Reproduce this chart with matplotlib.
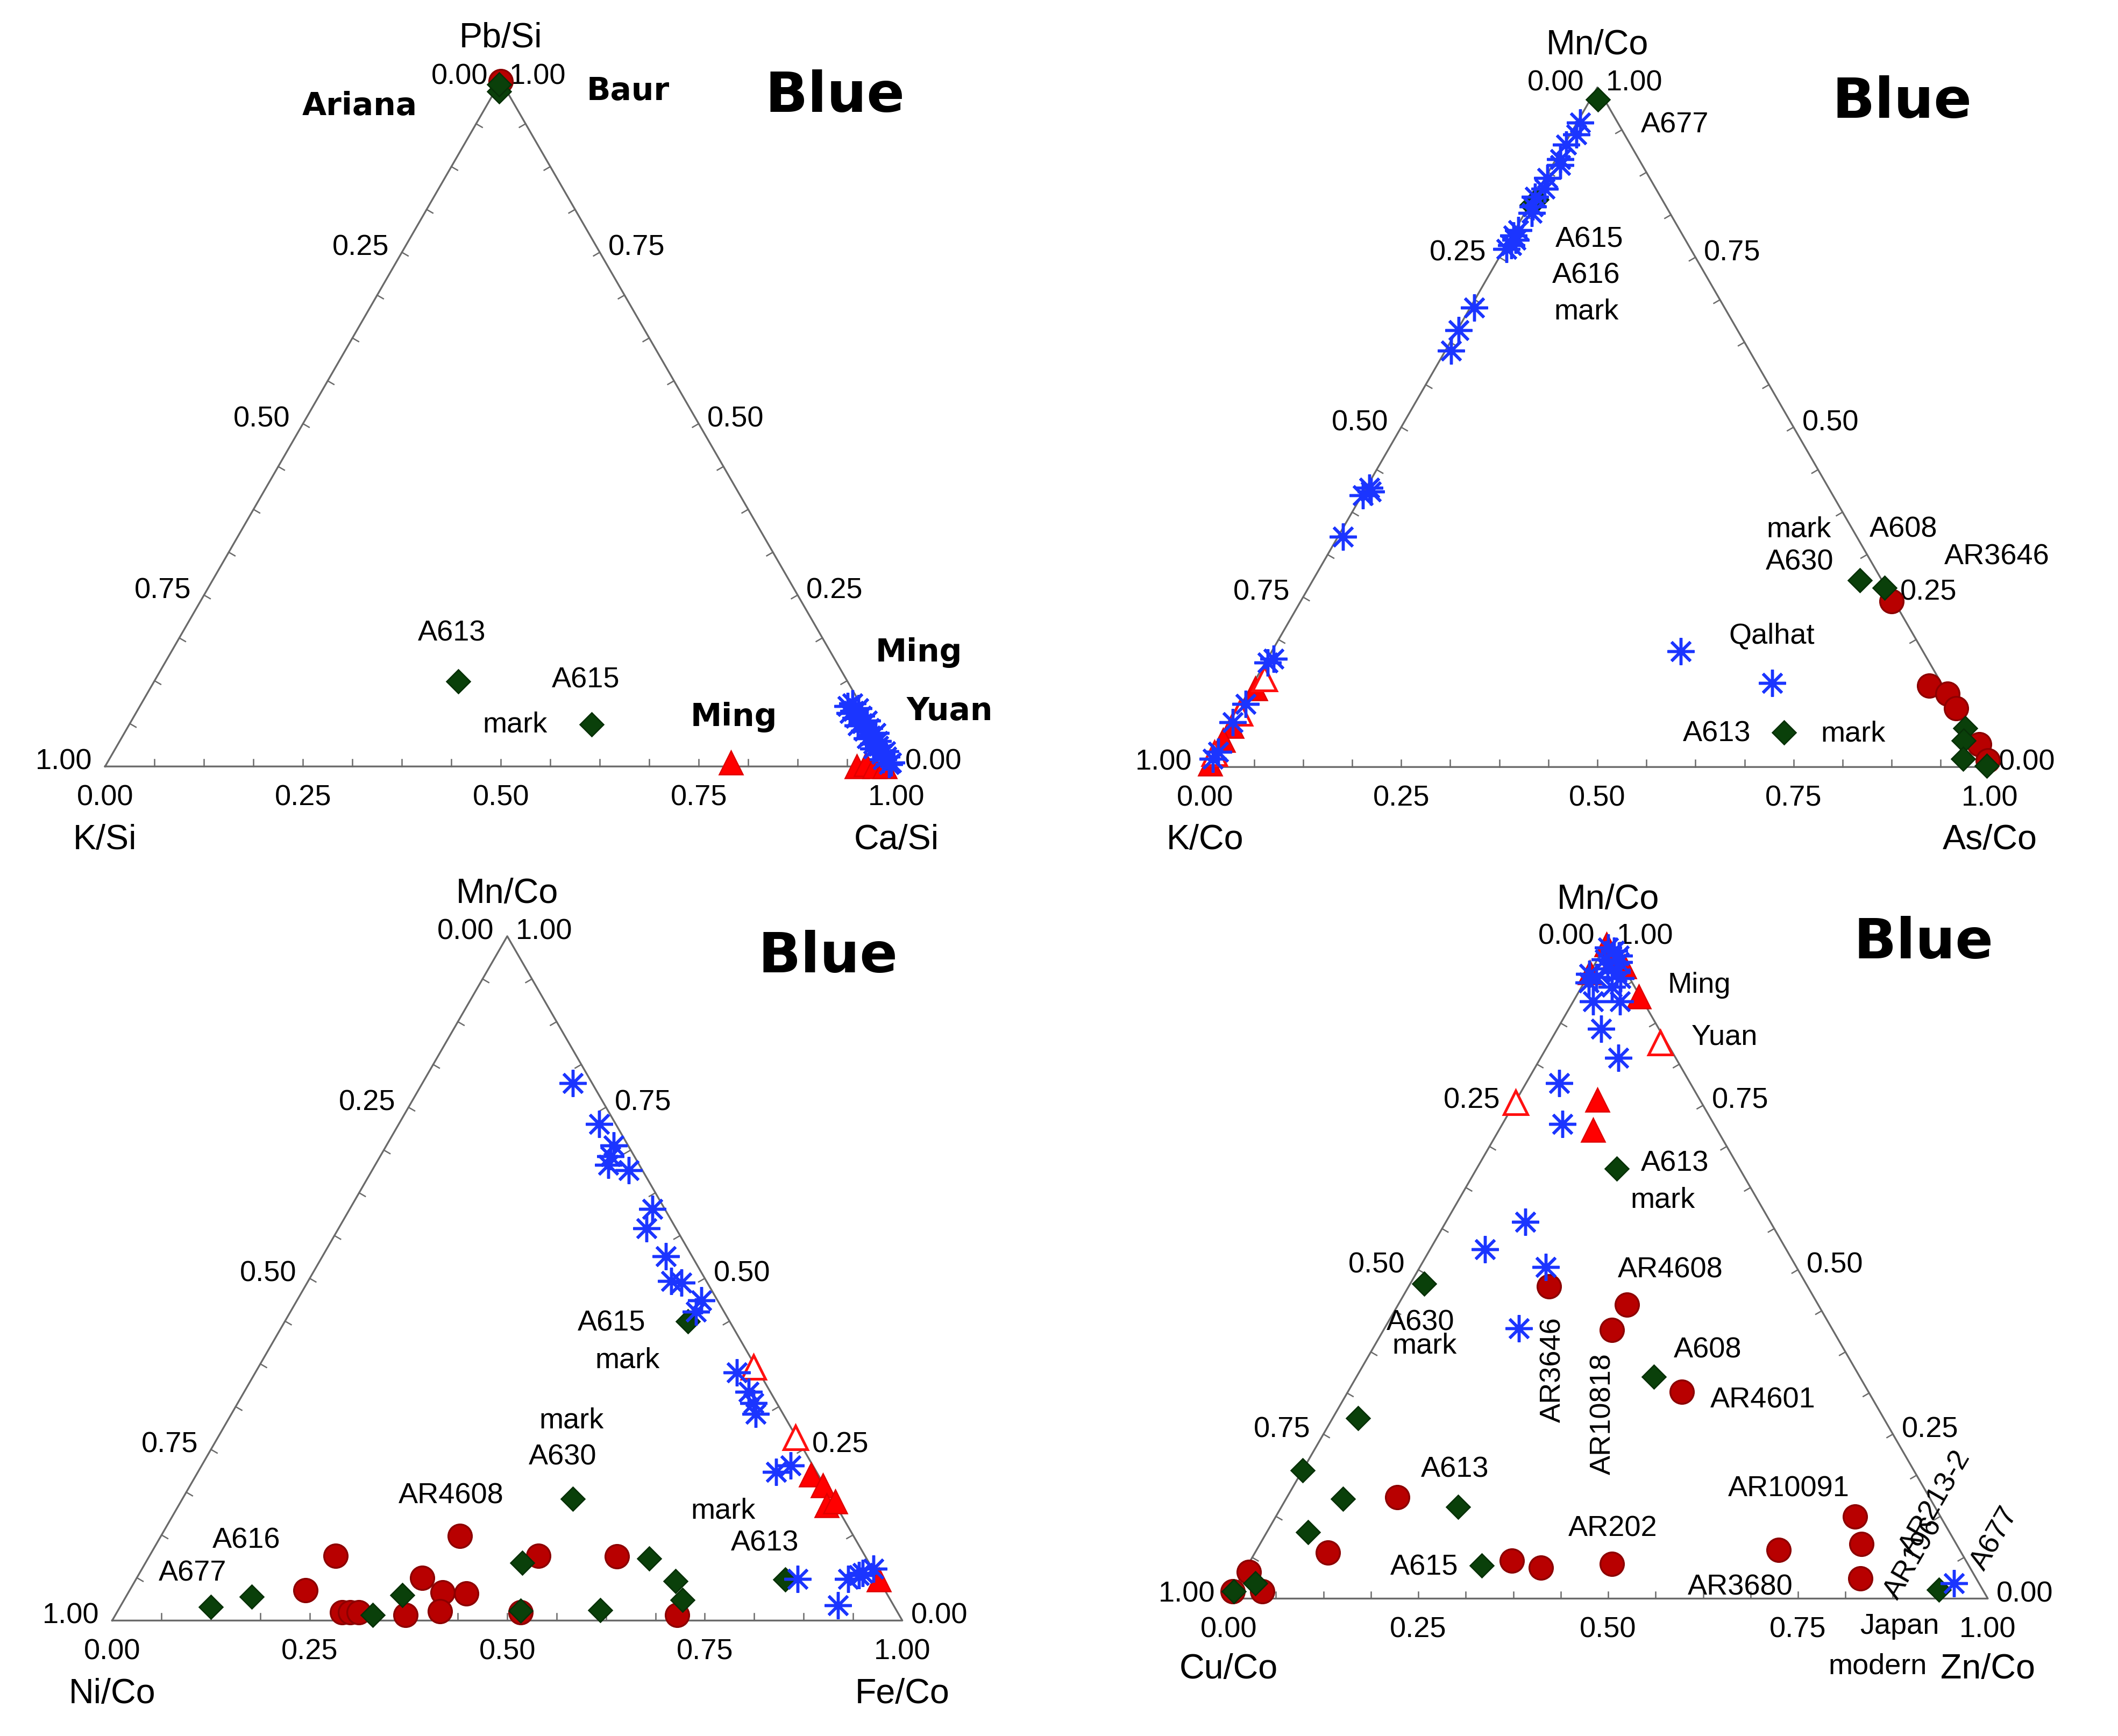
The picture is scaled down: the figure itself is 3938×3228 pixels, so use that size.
import numpy as np
import matplotlib
matplotlib.use("Agg")
import matplotlib.pyplot as plt

plt.rcParams["font.family"] = ["Liberation Sans", "DejaVu Sans"]

SQ = np.sqrt(3) / 2

# ---------------- panel 1 : K/Si - Ca/Si - Pb/Si   (bottom = Ca/Si, top = Pb/Si)
p1_dia_ca = [0.384, 0.584, 0.005, 0.0]
p1_dia_pb = [0.124, 0.061, 0.985, 0.995]
p1_cir_ca = [0.0]
p1_cir_pb = [1.0]
p1_tri_ca = [0.788, 0.950, 0.960, 0.972, 0.985]
p1_tri_pb = [0.006, 0.0, 0.003, 0.0, 0.0]
p1_ast_ca = [0.898, 0.894, 0.909, 0.905, 0.902, 0.918, 0.913, 0.929, 0.925, 0.921, 0.937, 0.933,
             0.949, 0.944, 0.942, 0.958, 0.954, 0.962, 0.958, 0.975, 0.972, 0.980, 0.978, 0.990, 0.989]
p1_ast_pb = [0.092, 0.088, 0.085, 0.081, 0.078, 0.074, 0.071, 0.067, 0.063, 0.060, 0.056, 0.052,
             0.049, 0.045, 0.041, 0.037, 0.033, 0.030, 0.026, 0.022, 0.018, 0.014, 0.010, 0.006, 0.003]

# ---------------- panel 2 : K/Co - As/Co - Mn/Co
p2_dia_as = [0.010, 0.003, 0.005, 0.697, 0.734, 0.7125, 0.940, 0.947, 0.960, 0.995]
p2_dia_mn = [0.982, 0.827, 0.835, 0.275, 0.264, 0.051, 0.057, 0.039, 0.012, 0.002]
p2_cir_as = [0.7526, 0.8634, 0.8922, 0.9142, 0.970, 0.993]
p2_cir_mn = [0.244, 0.1193, 0.1074, 0.0863, 0.0336, 0.0098]
p2_tri_as = [0.006, 0.004, 0.003, 0.004]
p2_tri_mn = [0.116, 0.060, 0.040, 0.005]
p2_otri_as = [0.011, 0.005, 0.002]
p2_otri_mn = [0.130, 0.079, 0.020]
p2_ast_as = [0.004, 0.008, 0.002, 0.006, 0.010, 0.003, 0.007, 0.001, 0.005, 0.009, 0.004, 0.002,
             0.008, 0.006, 0.003, 0.005, 0.002, 0.007, 0.004, 0.009, 0.001, 0.006, 0.008, 0.003,
             0.005, 0.002, 0.006, 0.004, 0.521, 0.661]
p2_ast_mn = [0.948, 0.931, 0.916, 0.894, 0.886, 0.867, 0.851, 0.839, 0.825, 0.815, 0.790, 0.782,
             0.776, 0.768, 0.762, 0.676, 0.643, 0.613, 0.411, 0.405, 0.400, 0.339, 0.159, 0.154,
             0.093, 0.066, 0.022, 0.012, 0.1705, 0.1233]

# ---------------- panel 3 : Ni/Co - Fe/Co - Mn/Co
p3_dia_fe = [0.510, 0.4943, 0.822, 0.634, 0.4767, 0.684, 0.707, 0.349, 0.326, 0.510, 0.6105, 0.159, 0.115]
p3_dia_mn = [0.437, 0.1779, 0.060, 0.091, 0.0846, 0.058, 0.030, 0.037, 0.008, 0.014, 0.015, 0.0345, 0.020]
p3_cir_fe = [0.2226, 0.2351, 0.285, 0.295, 0.3055, 0.3673, 0.361, 0.3975, 0.4076, 0.428, 0.3779,
             0.492, 0.511, 0.5917, 0.711]
p3_cir_mn = [0.0439, 0.0949, 0.0124, 0.012, 0.0124, 0.0084, 0.0622, 0.0413, 0.0138, 0.0399, 0.1239,
             0.0949, 0.0124, 0.0937, 0.0084]
p3_tri_fe = [0.778, 0.801, 0.820, 0.8283, 0.940]
p3_tri_mn = [0.2136, 0.1974, 0.1683, 0.1743, 0.060]
p3_otri_fe = [0.6263, 0.7308]
p3_otri_mn = [0.3706, 0.2673]
p3_ast_fe = [0.1907, 0.254, 0.2873, 0.2912, 0.2947, 0.3244, 0.3827, 0.390, 0.4342, 0.4593, 0.4734,
             0.5119, 0.5131, 0.6091, 0.6387, 0.6526, 0.6633, 0.7315, 0.7455, 0.837, 0.9073, 0.901,
             0.9118, 0.9148, 0.9255]
p3_ast_mn = [0.785, 0.7252, 0.6945, 0.6783, 0.6661, 0.658, 0.6013, 0.573, 0.5325, 0.496, 0.4936,
             0.4677, 0.4515, 0.3624, 0.3341, 0.3179, 0.3018, 0.2168, 0.2264, 0.0604, 0.0223, 0.0608,
             0.0666, 0.0696, 0.0754]

# ---------------- panel 4 : Cu/Co - Zn/Co - Mn/Co
p4_dia_zn = [0.1841, 0.0184, 0.3913, 0.0333, 0.0005, 0.0751, 0.2326, 0.0543, 0.3079, 0.0239, 0.0015, 0.929]
p4_dia_mn = [0.6538, 0.4786, 0.3371, 0.2746, 0.1947, 0.1517, 0.1391, 0.1011, 0.0506, 0.0235, 0.011, 0.0135]
p4_cir_zn = [0.185, 0.3011, 0.3006, 0.4401, 0.1451, 0.0957, 0.3447, 0.3878, 0.4783, 0.6875, 0.7624,
             0.7925, 0.8168, 0.0064, 0.0, 0.0389]
p4_cir_mn = [0.4745, 0.4467, 0.4087, 0.3142, 0.1542, 0.070, 0.0573, 0.0471, 0.0531, 0.0741, 0.1247,
             0.0826, 0.0303, 0.0405, 0.011, 0.011]
p4_tri_zn = [0.0828, 0.1068, 0.1234, 0.0, 0.041, 0.0, 0.020]
p4_tri_mn = [0.9151, 0.7584, 0.713, 0.995, 0.961, 0.952, 0.975]
p4_otri_zn = [0.0007, 0.1462]
p4_otri_mn = [0.7543, 0.8452]
p4_ast_zn = [0.0436, 0.0794, 0.1046, 0.0722, 0.1658, 0.1765, 0.0575, 0.1025, 0.0257, 0.0613, 0.9437,
             0.006, 0.045, 0.020, 0.010, 0.030, 0.015, 0.005, 0.035, 0.025, 0.0, 0.040, 0.012]
p4_ast_mn = [0.7837, 0.7213, 0.5731, 0.5309, 0.5039, 0.4112, 0.8663, 0.8225, 0.9085, 0.9085, 0.0235,
             0.937, 0.943, 0.958, 0.972, 0.968, 0.985, 0.990, 0.952, 0.978, 0.950, 0.930, 0.945]

TICKS = [0.0, 0.25, 0.50, 0.75, 1.00]

W_REF, H_REF = 1552.0, 1272.0
fig = plt.figure(figsize=(3938 / 300, 3228 / 300), dpi=300)


def tern(b, r):
    b = np.asarray(b, float)
    r = np.asarray(r, float)
    return b + r / 2, r * SQ


def panel_axes(x0, y0, side):
    # x0, y0 = lower-left corner of the triangle, side = edge length (reference px)
    xl, xr, yb, yt = -0.15, 1.15, -0.15, 1.0
    ax = fig.add_axes([(x0 + xl * side) / W_REF, 1 - (y0 - yb * side) / H_REF,
                       (xr - xl) * side / W_REF, (yt - yb) * side / H_REF])
    ax.set_xlim(xl, xr)
    ax.set_ylim(yb, yt)
    ax.axis("off")
    return ax


def frame(ax, top, left, right):
    ax.plot([0, 1, 0.5, 0], [0, 0, SQ, 0], color="#6a6a6a", lw=0.8, zorder=1, clip_on=False)
    d = 0.009
    for v in np.arange(1, 16) / 16:
        ax.plot([v, v], [0, d], color="#6a6a6a", lw=0.6, zorder=1)
        ax.plot([v / 2, v / 2 + d * SQ], [v * SQ, v * SQ - d / 2], color="#6a6a6a", lw=0.6, zorder=1)
        ax.plot([1 - v / 2, 1 - v / 2 - d * SQ], [v * SQ, v * SQ - d / 2], color="#6a6a6a", lw=0.6, zorder=1)
    for v in TICKS:
        ax.annotate(f"{v:.2f}", (v, 0), xytext=(0, -14), textcoords="offset points",
                    ha="center", va="center", fontsize=13)
        ax.annotate(f"{1 - v:.2f}", (v / 2, v * SQ), xytext=(-18.5, 2), textcoords="offset points",
                    ha="center", va="center", fontsize=13)
        ax.annotate(f"{v:.2f}", (1 - v / 2, v * SQ), xytext=(16.5, 2), textcoords="offset points",
                    ha="center", va="center", fontsize=13)
    ax.text(0.5, 0.92, top, ha="center", va="center", fontsize=15.5)
    ax.text(0.0, -0.093, left, ha="center", va="center", fontsize=15.5)
    ax.text(1.0, -0.093, right, ha="center", va="center", fontsize=15.5)


def points(ax, dia, cir, tri, otri, ast):
    if cir:
        x, y = tern(*cir)
        ax.plot(x, y, "o", ms=10.5, mfc="#b80000", mec="#8c0000", mew=0.8, ls="none", zorder=3, clip_on=False)
    if dia:
        x, y = tern(*dia)
        ax.plot(x, y, "D", ms=7.5, mfc="#0a400a", mec="#073007", mew=0.6, ls="none", zorder=4, clip_on=False)
    if tri:
        x, y = tern(*tri)
        ax.plot(x, y, "^", ms=10.5, mfc="#ff0000", mec="#e00000", mew=0.6, ls="none", zorder=5, clip_on=False)
    if otri:
        x, y = tern(*otri)
        ax.plot(x, y, "^", ms=10.5, mfc="white", mec="#ff1010", mew=1.2, ls="none", zorder=5, clip_on=False)
    if ast:
        x, y = tern(*ast)
        ax.plot(x, y, marker=(8, 2, 0), ms=12, color="#1b35ff", mew=1.3, ls="none", zorder=6, clip_on=False)


def labels(ax, items, **kw):
    for txt, x, y, *rot in items:
        ax.text(x, y, txt, ha="center", va="center", rotation=rot[0] if rot else 0,
                fontsize=kw.get("size", 13), fontweight=kw.get("weight", "normal"),
                family=kw.get("family", ["Liberation Sans", "DejaVu Sans"]))


def blue(ax, x, y):
    ax.text(x, y, "Blue", ha="center", va="center", fontsize=25, fontweight="bold", family="DejaVu Sans")


# ---- panel 1
ax1 = panel_axes(77, 561.6, 580)
frame(ax1, "Pb/Si", "K/Si", "Ca/Si")
points(ax1, (p1_dia_ca, p1_dia_pb), (p1_cir_ca, p1_cir_pb), (p1_tri_ca, p1_tri_pb), None,
       (p1_ast_ca, p1_ast_pb))
labels(ax1, [("A613", 0.438, 0.168), ("A615", 0.607, 0.109), ("mark", 0.518, 0.053)])
labels(ax1, [("Ariana", 0.322, 0.834), ("Baur", 0.661, 0.853), ("Ming", 0.794, 0.062),
             ("Ming", 1.028, 0.144), ("Yuan", 1.067, 0.070)], size=14, weight="bold", family="DejaVu Sans")
blue(ax1, 0.922, 0.846)

# ---- panel 2
ax2 = panel_axes(883, 562, 575)
frame(ax2, "Mn/Co", "K/Co", "As/Co")
points(ax2, (p2_dia_as, p2_dia_mn), (p2_cir_as, p2_cir_mn), (p2_tri_as, p2_tri_mn),
       (p2_otri_as, p2_otri_mn), (p2_ast_as, p2_ast_mn))
labels(ax2, [("A677", 0.599, 0.818), ("A615", 0.490, 0.672), ("A616", 0.486, 0.626),
             ("mark", 0.486, 0.580), ("mark", 0.757, 0.303), ("A630", 0.758, 0.261),
             ("A608", 0.890, 0.303), ("AR3646", 1.009, 0.268), ("Qalhat", 0.722, 0.167),
             ("A613", 0.652, 0.042), ("mark", 0.826, 0.042)])
blue(ax2, 0.888, 0.847)

# ---- panel 3
ax3 = panel_axes(82.2, 1187.4, 579)
frame(ax3, "Mn/Co", "Ni/Co", "Fe/Co")
points(ax3, (p3_dia_fe, p3_dia_mn), (p3_cir_fe, p3_cir_mn), (p3_tri_fe, p3_tri_mn),
       (p3_otri_fe, p3_otri_mn), (p3_ast_fe, p3_ast_mn))
labels(ax3, [("A615", 0.632, 0.376), ("mark", 0.652, 0.329), ("mark", 0.581, 0.253),
             ("A630", 0.570, 0.207), ("AR4608", 0.429, 0.158), ("mark", 0.773, 0.139),
             ("A613", 0.826, 0.098), ("A616", 0.170, 0.101), ("A677", 0.102, 0.060)])
blue(ax3, 0.906, 0.840)

# ---- panel 4
ax4 = panel_axes(900.2, 1171.3, 556.4)
frame(ax4, "Mn/Co", "Cu/Co", "Zn/Co")
points(ax4, (p4_dia_zn, p4_dia_mn), (p4_cir_zn, p4_cir_mn), (p4_tri_zn, p4_tri_mn),
       (p4_otri_zn, p4_otri_mn), (p4_ast_zn, p4_ast_mn))
labels(ax4, [("Ming", 0.620, 0.808), ("Yuan", 0.653, 0.739), ("A613", 0.588, 0.573),
             ("mark", 0.572, 0.525), ("AR4608", 0.582, 0.433), ("A630", 0.253, 0.363),
             ("mark", 0.258, 0.333), ("AR3646", 0.427, 0.301, 90), ("AR10818", 0.493, 0.243, 90),
             ("A608", 0.631, 0.327), ("AR4601", 0.704, 0.261), ("A613", 0.298, 0.170),
             ("AR202", 0.506, 0.092), ("A615", 0.258, 0.041), ("AR10091", 0.738, 0.1445),
             ("AR3680", 0.674, 0.0146), ("AR213-2", 0.9315, 0.126, 60), ("AR196", 0.902, 0.053, 60),
             ("A677", 1.009, 0.079, 60), ("Japan", 0.884, -0.0365), ("modern", 0.855, -0.089)])
blue(ax4, 0.9155, 0.863)

fig.savefig("out.png", dpi=300, facecolor="white")
